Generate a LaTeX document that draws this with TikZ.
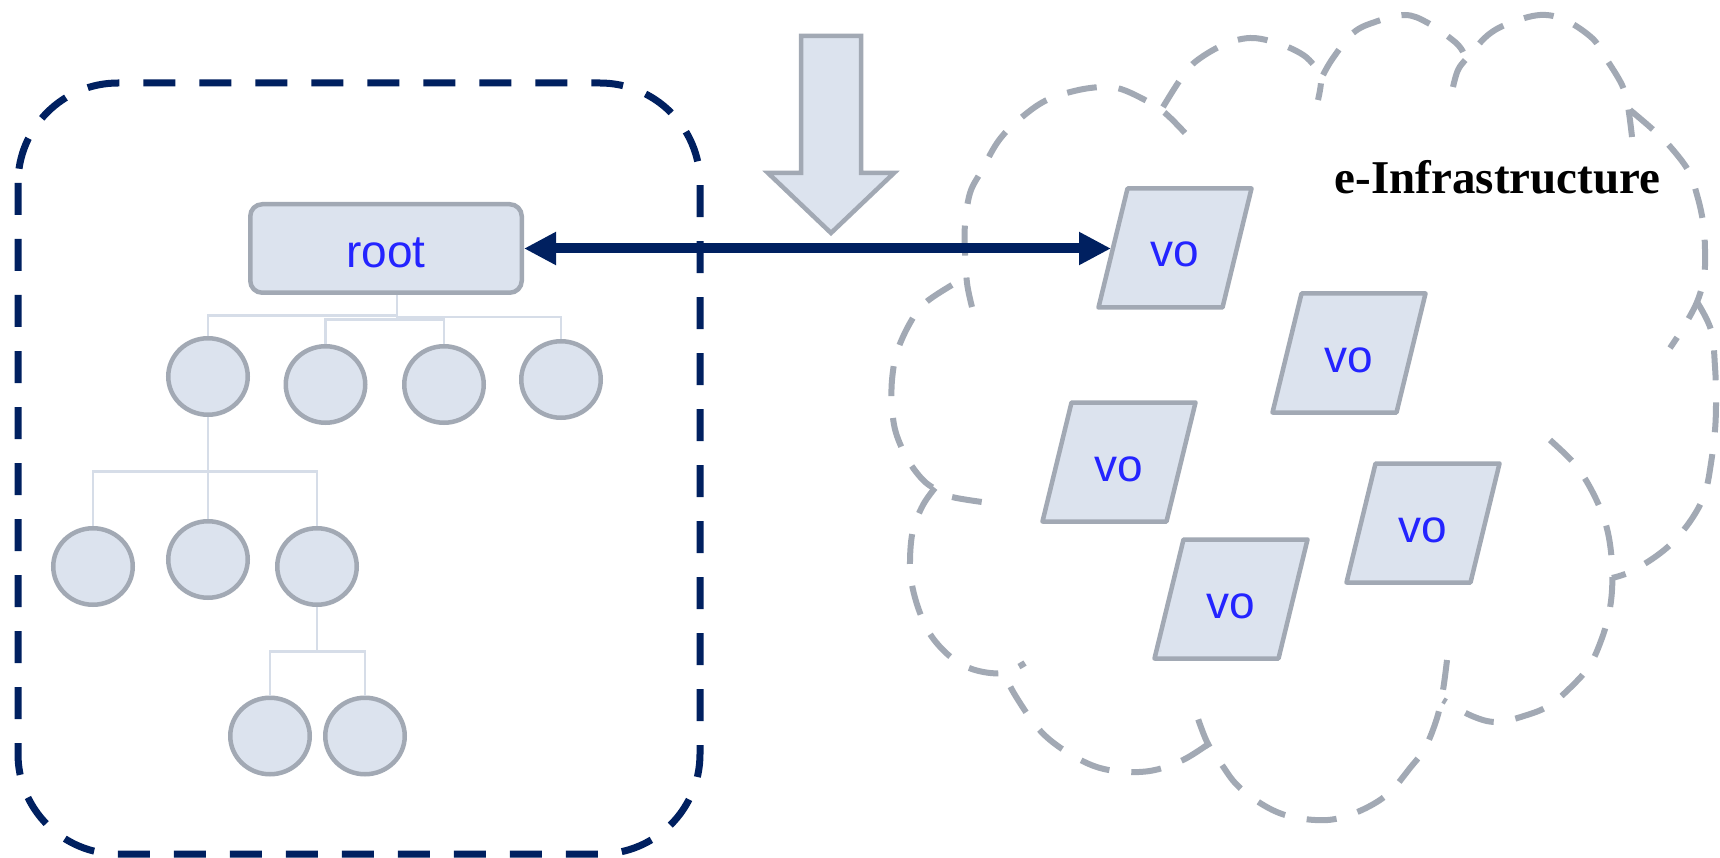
\documentclass[tikz,border=0pt]{standalone}
\usepackage{fontspec}
\setmainfont{Liberation Sans}
\newfontfamily\titlefont{Liberation Serif}
\usetikzlibrary{arrows.meta,shapes.geometric,calc}
\definecolor{navy}{RGB}{0,32,96}
\definecolor{boxfill}{RGB}{220,227,238}
\definecolor{boxline}{RGB}{162,169,180}
\definecolor{treegray}{RGB}{214,221,232}
\definecolor{textblue}{RGB}{36,36,255}
\begin{document}
\begin{tikzpicture}[x=1pt,y=-1pt,
  navybox/.style={draw=navy, line width=7pt, dash pattern=on 32pt off 24pt, rounded corners=100pt},
  treeline/.style={draw=treegray, line width=2.5pt},
  elbow/.style={to path={|- ($(\tikztostart)!0.5!(\tikztotarget)$) -| (\tikztotarget)}},
  member/.style={ellipse, draw=boxline, fill=boxfill, line width=4.5pt, minimum width=79.5pt, minimum height=76.5pt, inner sep=0pt},
  rootbox/.style={rectangle, rounded corners=12pt, draw=boxline, fill=boxfill, line width=4.5pt, minimum width=271.5pt, minimum height=88.5pt, inner sep=0pt, text=textblue, font=\fontsize{46}{50}\selectfont, text height=39pt, text depth=0pt},
  votext/.style={inner sep=0pt, text=textblue, font=\fontsize{46}{50}\selectfont, text height=38pt, text depth=0pt},
  vobox/.style={draw=boxline, fill=boxfill, line width=4.5pt, line join=round},
  link/.style={draw=navy, line width=10pt, {Triangle[length=32pt,width=31pt]}-{Triangle[length=32pt,width=31pt]}},
  bigarrow/.style={draw=boxline, fill=boxfill, line width=4.5pt, line join=miter},
  cloudline/.style={draw=boxline, line width=6pt, dash pattern=on 30pt off 22pt},
  cloudplot/.style={smooth, tension=0.6}
]
\useasboundingbox (0,0) rectangle (1720,858);
\fill[white] (0,0) rectangle (1720,858);

% left dashed frame
\draw[navybox] (18,83) rectangle (700,854);

% cloud
\draw[cloudline] plot[cloudplot] coordinates {(972,307) (967,283) (965,250) (965,225) (970,193) (982,170) (997,143) (1013,125) (1038,105) (1060,95) (1090,88) (1117,88) (1145,100) (1165,113) (1185,133)};
\draw[cloudline] plot[cloudplot] coordinates {(1163,107) (1180,80) (1195,62) (1223,45) (1250,38) (1277,43) (1300,53) (1312,63) (1321,77) (1318,100)};
\draw[cloudline] plot[cloudplot] coordinates {(1323,75) (1333,58) (1353,33) (1375,22) (1405,15) (1428,23) (1455,42) (1463,52)};
\draw[cloudline] plot[cloudplot] coordinates {(1453,87) (1458,70) (1467,58) (1488,35) (1510,23) (1540,15) (1565,20) (1592,38) (1605,57) (1622,85) (1628,107) (1632,137)};
\draw[cloudline] plot[cloudplot] coordinates {(1630,110) (1650,127) (1667,143) (1688,170) (1697,195) (1703,222) (1705,250) (1704,277) (1697,302) (1683,328) (1670,348)};
\draw[cloudline] plot[cloudplot] coordinates {(1697,302) (1711,330) (1715,367) (1716,400) (1715,430) (1711,463) (1705,493) (1693,517) (1675,540) (1655,557) (1630,572) (1612,578)};
\draw[cloudline] plot[cloudplot] coordinates {(1550,440) (1573,462) (1587,482) (1600,508) (1608,533) (1612,563) (1612,590) (1609,613) (1602,638) (1590,665) (1573,685) (1550,705) (1527,715) (1497,722) (1472,716) (1443,700)};
\draw[cloudline] plot[cloudplot] coordinates {(1447,660) (1443,690) (1437,718) (1425,748) (1410,768) (1390,792) (1368,807) (1340,818) (1315,820) (1285,815) (1260,803) (1237,785) (1222,765) (1207,742) (1195,710)};
\draw[cloudline] plot[cloudplot] coordinates {(1207,745) (1183,760) (1155,770) (1128,772) (1100,768) (1075,757) (1050,740) (1033,722) (1015,695) (1006,678)};
\draw[cloudline] plot[cloudplot] coordinates {(935,488) (923,505) (913,530) (910,560) (912,585) (920,613) (932,637) (952,658) (975,670) (1003,673) (1025,663)};
\draw[cloudline] plot[cloudplot] coordinates {(952,285) (925,303) (910,323) (897,352) (892,380) (892,407) (896,433) (908,460) (923,480) (937,490) (952,497) (982,502)};

% hierarchy
\node[rootbox] (root) at (386,248.5) {root};
\node[member] (c1) at (208,376.5) {};
\node[member] (c2) at (325.5,384.5) {};
\node[member] (c3) at (444,384.5) {};
\node[member] (c4) at (561,379.5) {};
\node[member] (c5) at (93,566.5) {};
\node[member] (c6) at (208,559.5) {};
\node[member] (c7) at (317,566.5) {};
\node[member] (c8) at (270,736) {};
\node[member] (c9) at (365,736) {};
\coordinate (rs) at ([xshift=11pt]root.south);
\draw[treeline] (rs) to[elbow] (c1.north)
                (rs) to[elbow] (c2.north)
                (rs) to[elbow] (c3.north)
                (rs) to[elbow] (c4.north);
\draw[treeline] (c1.south) to[elbow] (c5.north)
                (c1.south) to[elbow] (c6.north)
                (c1.south) to[elbow] (c7.north);
\draw[treeline] (c7.south) to[elbow] (c8.north)
                (c7.south) to[elbow] (c9.north);

% VOs
\foreach \n/\px/\py in {1/1175/248, 2/1349/353, 3/1119/462, 4/1423/523, 5/1231/599} {
  \draw[vobox] (\px-76.5,\py+59.5) -- ++(124,0) -- ++(29,-119) -- ++(-124,0) -- cycle;
  \node[votext] (v\n) at (\px,\py) {vo};
}

\node[font=\titlefont\bfseries\fontsize{47}{50}\selectfont, anchor=base, inner sep=0pt] (title) at (1497.5,193.5) {e-Infrastructure};

% big down arrow
\draw[bigarrow] (801,36) -- (861,36) -- (861,173) -- (894,173) -- (831,233) -- (768,173) -- (801,173) -- cycle;

% link root <-> vo
\coordinate (vtip) at ([xshift=-64pt]v1.center);
\draw[link] (root.east) -- (root.east -| vtip);
\end{tikzpicture}
\end{document}
